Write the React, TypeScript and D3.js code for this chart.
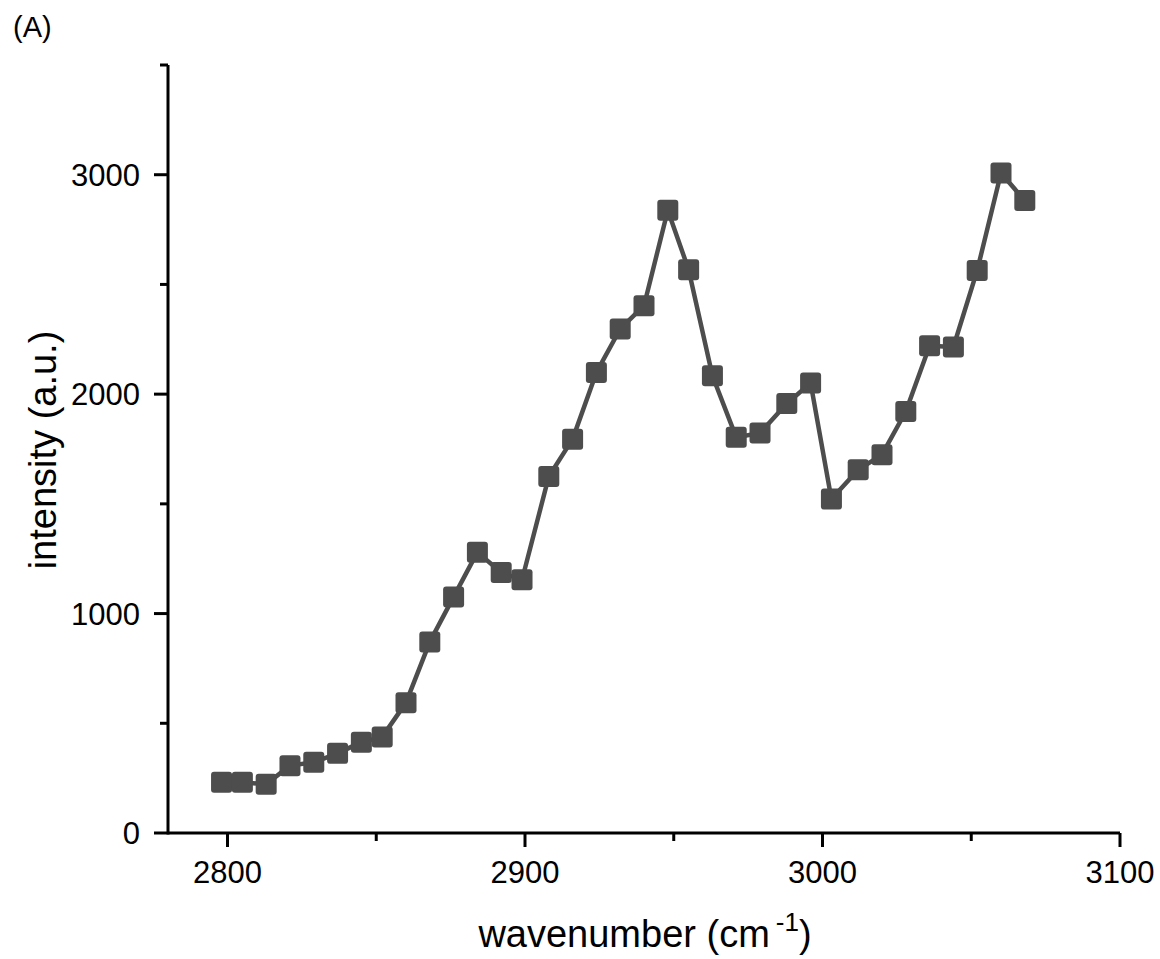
import React from 'react';
import * as d3 from 'd3';

// wavenumber (cm-1) and intensity
const wavenumbers = [2798, 2805, 2813, 2821, 2829, 2837, 2845, 2852, 2860, 2868, 2876, 2884, 2892, 2899, 2908, 2916, 2924, 2932, 2940, 2948, 2955, 2963, 2971, 2979, 2988, 2996, 3003, 3012, 3020, 3028, 3036, 3044, 3052, 3060, 3068];
const intensities = [231, 231, 222, 307, 322, 363, 414, 438, 594, 871, 1076, 1280, 1187, 1154, 1625, 1795, 2099, 2297, 2403, 2838, 2567, 2084, 1803, 1823, 1957, 2051, 1522, 1655, 1724, 1921, 2221, 2215, 2564, 3008, 2882];

const xMajor = [2800, 2900, 3000, 3100];
const xMinor = [2850, 2950, 3050];
const yMajor = [0, 1000, 2000, 3000];
const yMinor = [500, 1500, 2500, 3500];

const W = 1160;
const H = 959;
const font = '"Liberation Sans", Arial, sans-serif';
const ink = '#4d4d4d';

export default function App() {
  const x = d3.scaleLinear().domain([2780, 3100]).range([168, 1120]);
  const y = d3.scaleLinear().domain([0, 3500]).range([833, 65]);

  const pts = wavenumbers.map((w, i) => [w, intensities[i]] as [number, number]);
  const line = d3.line<[number, number]>().x(d => x(d[0])).y(d => y(d[1]));

  const x0 = x.range()[0];
  const y0 = y.range()[0];
  const ms = 21;

  return (
    <svg width={W} height={H} style={{position: 'absolute', left: 0, top: 0, background: '#fff'}} fontFamily={font}>
      <rect width={W} height={H} fill="#fff" />
      <text x={13} y={37} fontSize={29}>(A)</text>

      {/* axes */}
      <line x1={x0} x2={x.range()[1]} y1={y0} y2={y0} stroke="#000" strokeWidth={3} />
      <line x1={x0} x2={x0} y1={y0 + 1.5} y2={y.range()[1]} stroke="#000" strokeWidth={3} />

      {xMajor.map(t => (
        <g key={'xM' + t}>
          <line x1={x(t)} x2={x(t)} y1={y0} y2={y0 + 14} stroke="#000" strokeWidth={3} />
          <text x={x(t)} y={y0 + 50} fontSize={31} textAnchor="middle">{t}</text>
        </g>
      ))}
      {xMinor.map(t => (
        <line key={'xm' + t} x1={x(t)} x2={x(t)} y1={y0} y2={y0 + 8} stroke="#000" strokeWidth={3} />
      ))}
      {yMajor.map(t => (
        <g key={'yM' + t}>
          <line x1={x0 - 14} x2={x0} y1={y(t)} y2={y(t)} stroke="#000" strokeWidth={3} />
          <text x={140} y={y(t)} dy="0.36em" fontSize={31} textAnchor="end">{t}</text>
        </g>
      ))}
      {yMinor.map(t => (
        <line key={'ym' + t} x1={x0 - 8} x2={x0} y1={y(t)} y2={y(t)} stroke="#000" strokeWidth={3} />
      ))}

      {/* axis titles */}
      <text x={645} y={947} fontSize={38} textAnchor="middle">
        wavenumber (cm<tspan fontSize={26} dx={6} dy={-16}>-1</tspan><tspan dy={16}>)</tspan>
      </text>
      <text transform="translate(56,450) rotate(-90)" fontSize={38} textAnchor="middle">intensity (a.u.)</text>

      {/* series */}
      <path d={line(pts) || ''} fill="none" stroke={ink} strokeWidth={4.5} strokeLinejoin="round" />
      {pts.map((d, i) => (
        <rect key={i} x={x(d[0]) - ms / 2} y={y(d[1]) - ms / 2} width={ms} height={ms} rx={3} fill={ink} />
      ))}
    </svg>
  );
}
